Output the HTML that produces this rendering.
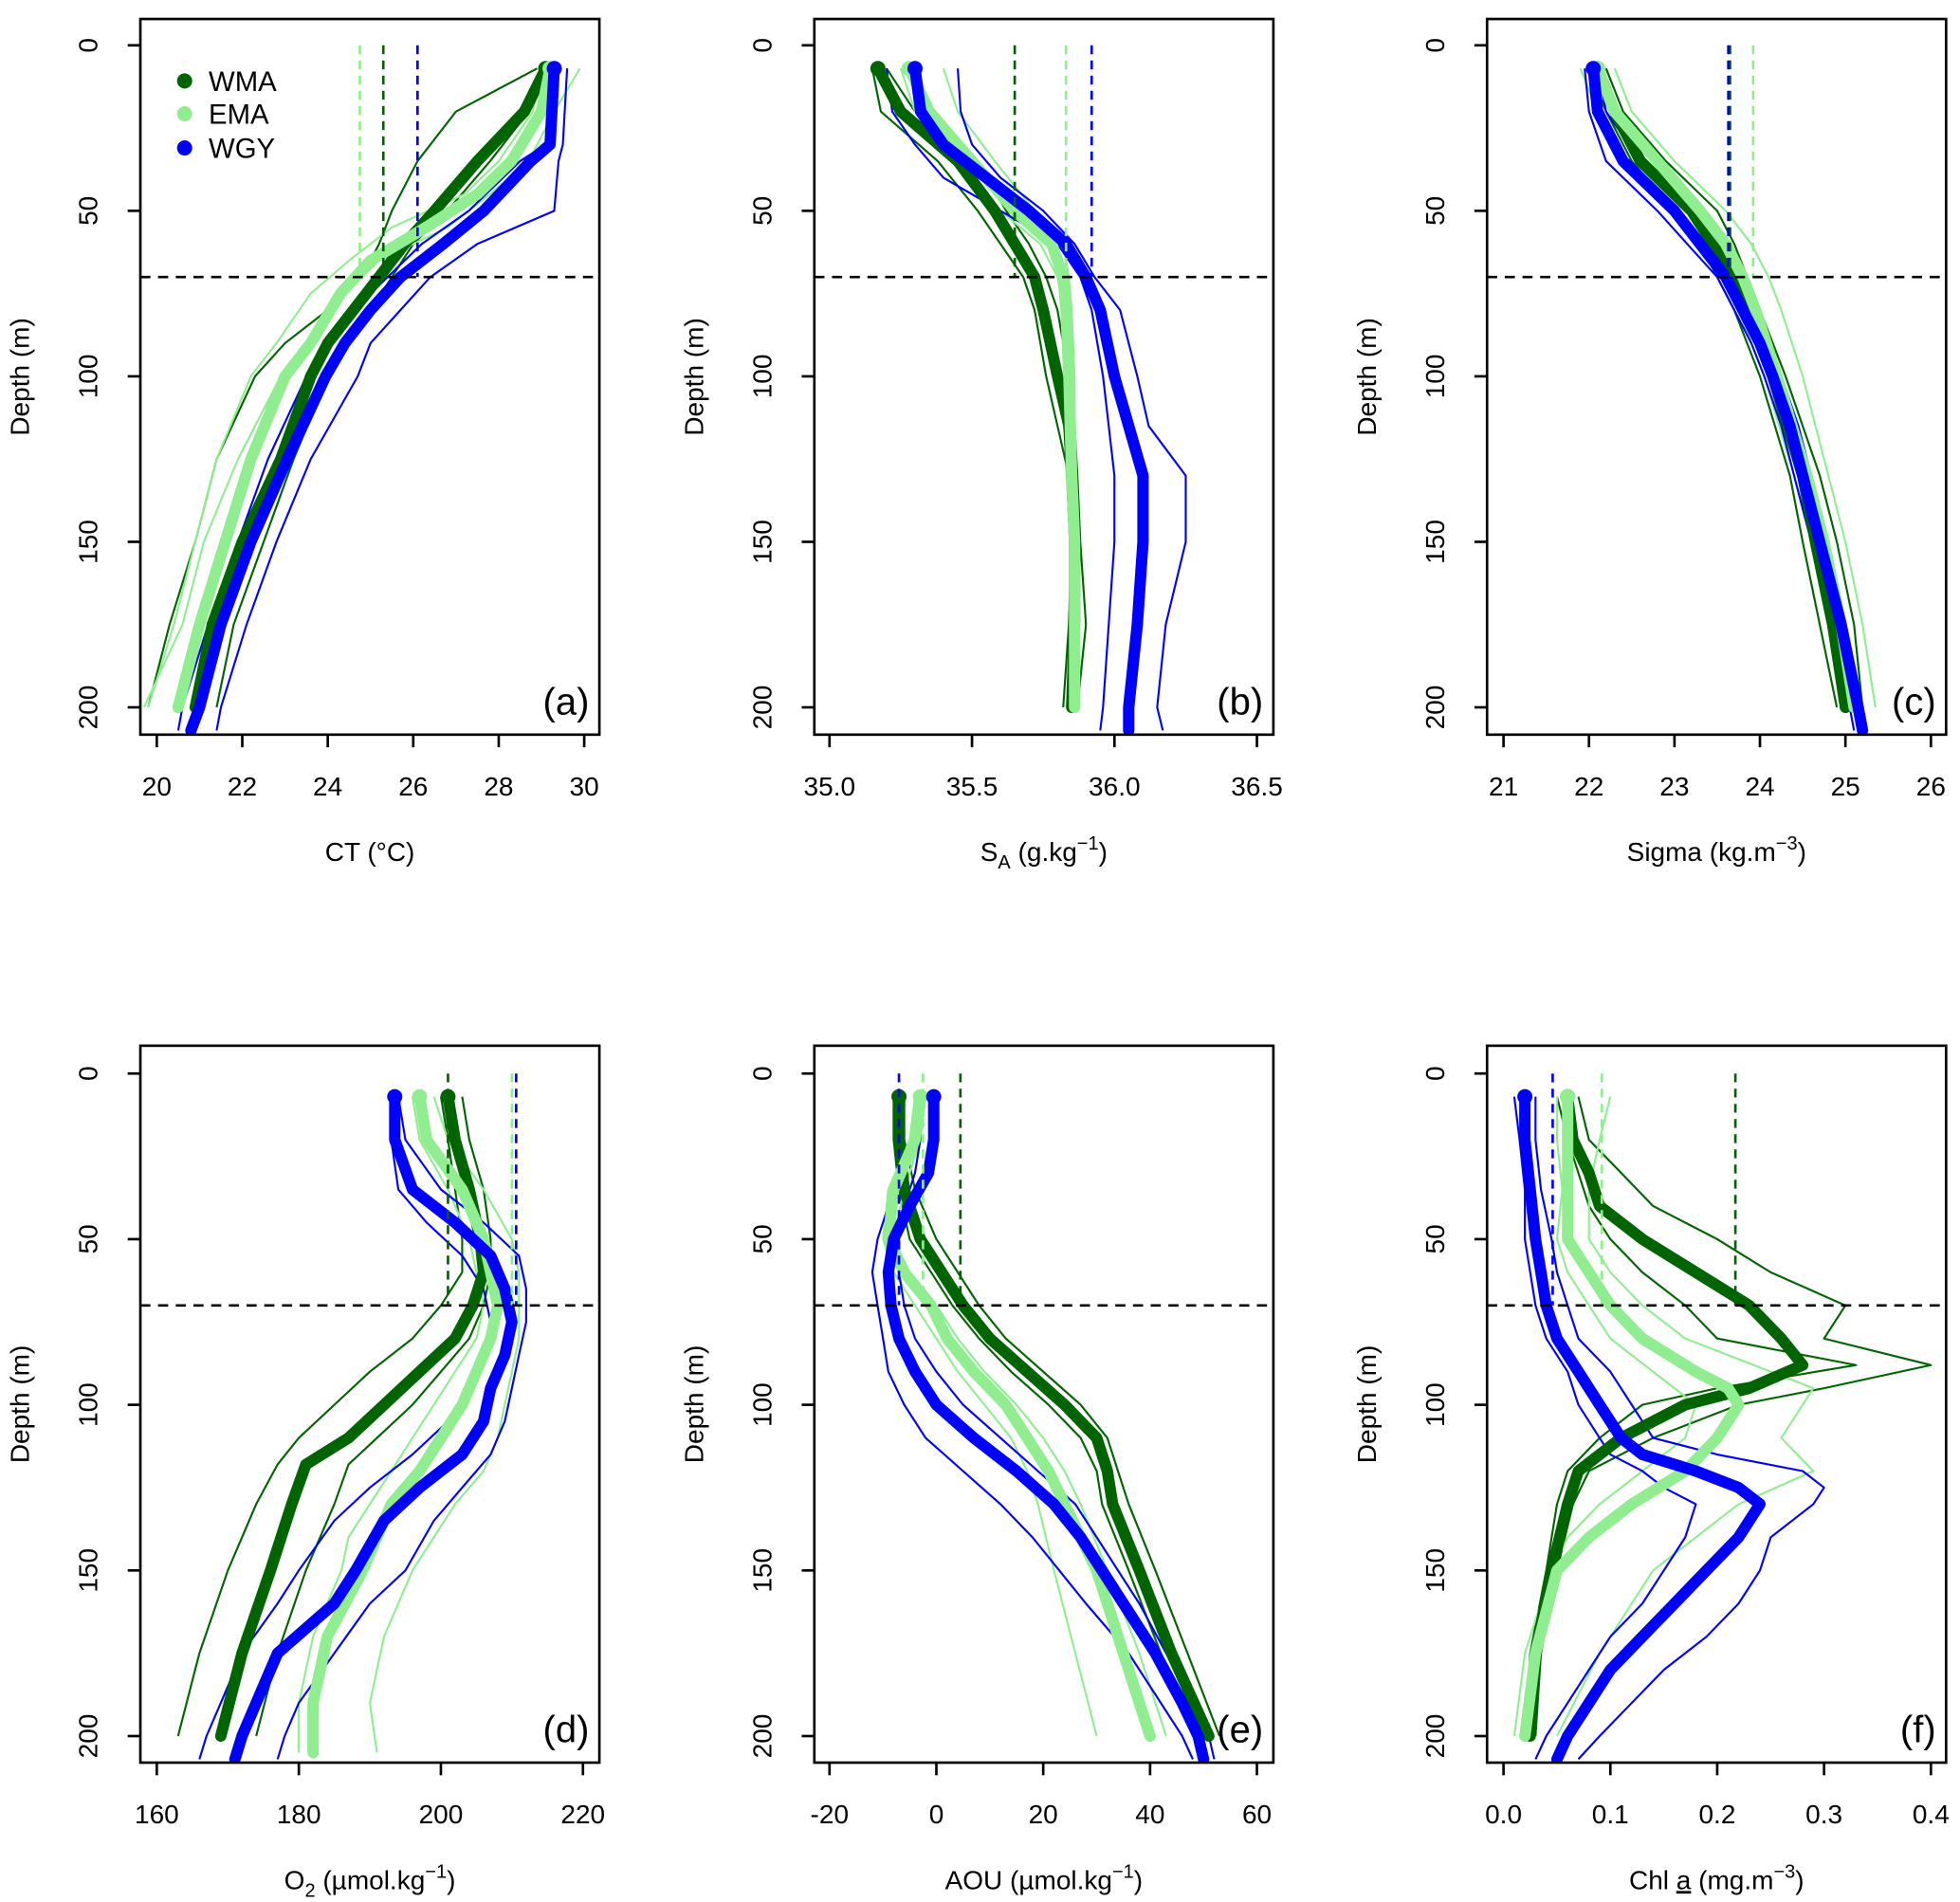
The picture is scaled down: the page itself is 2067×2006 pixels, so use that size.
<!DOCTYPE html>
<html><head><meta charset="utf-8"><title>Depth profiles</title>
<style>html,body{margin:0;padding:0;background:#fff}svg{display:block}text{font-family:"Liberation Sans",Arial,sans-serif;fill:#000}</style>
</head><body>
<svg id="chart" xmlns="http://www.w3.org/2000/svg" width="2067" height="2006" viewBox="0 0 1550 1504.2"></svg>
<script>
// ---------- Panel (a) CT ----------
const aDepthWGY=[7,30,35,50,60,70,80,90,100,125,150,175,200,207];
const aMeanWGY=[29.3,29.2,28.75,27.65,26.7,25.7,25.0,24.4,23.95,23.05,22.2,21.5,21.0,20.8];
const aThin1WGY=[29.6,29.5,29.4,29.3,27.5,26.4,25.7,25.0,24.7,23.6,22.8,22.1,21.5,21.4];
const aThin2WGY=[29.2,29.1,28.5,27.3,26.2,25.4,24.6,24.0,23.5,22.6,21.9,21.2,20.6,20.5];
const aDepthWMA=[7,20,35,50,60,70,80,90,100,125,150,175,200];
const aMeanWMA=[29.1,28.6,27.5,26.5,25.8,25.2,24.6,24.0,23.6,22.9,22.0,21.3,20.9];
const aThin1WMA=[28.9,27.0,26.1,25.5,25.2,24.8,24.0,23.0,22.3,21.4,20.9,20.3,19.8];
const aThin2WMA=[29.0,28.7,27.8,26.8,26.0,25.5,25.0,24.5,24.0,23.2,22.5,21.8,21.4];
const aDepthEMA=[7,20,35,45,55,65,75,90,100,125,150,175,200];
const aMeanEMA=[29.2,29.0,28.3,27.5,26.3,25.0,24.3,23.6,23.0,22.2,21.6,21.0,20.5];
const aThin1EMA=[29.9,29.3,28.7,27.8,26.8,25.2,24.4,23.6,22.9,21.9,21.1,20.6,19.7];
const aThin2EMA=[29.0,28.8,28.0,27.2,25.5,24.5,23.6,22.8,22.2,21.4,20.9,20.4,19.8];
const aMLD=[25.3,24.75,26.1]; // WMA, EMA, WGY
const aTicks=[20,22,24,26,28,30];
// ---------- Panel (b) SA ----------
const bDepthWGY=[7,20,30,40,50,60,70,80,100,115,130,150,175,200,207];
const bMeanWGY=[35.30,35.32,35.40,35.55,35.70,35.83,35.90,35.95,36.00,36.05,36.10,36.10,36.08,36.05,36.05];
const bThin1WGY=[35.45,35.46,35.50,35.60,35.75,35.86,35.93,36.02,36.08,36.12,36.25,36.25,36.18,36.15,36.17];
const bThin2WGY=[35.20,35.22,35.30,35.40,35.60,35.80,35.88,35.92,35.96,35.98,36.00,36.00,35.98,35.96,35.95];
const bDepthWMA=[7,20,35,50,60,70,80,100,115,130,150,175,200];
const bMeanWMA=[35.17,35.25,35.45,35.58,35.65,35.72,35.75,35.80,35.84,35.85,35.86,35.86,35.85];
const bThin1WMA=[35.15,35.18,35.38,35.52,35.60,35.68,35.72,35.76,35.80,35.84,35.85,35.84,35.82];
const bThin2WMA=[35.20,35.30,35.52,35.62,35.70,35.76,35.80,35.84,35.86,35.87,35.88,35.90,35.87];
const bDepthEMA=[7,20,35,50,60,70,80,100,130,150,200];
const bMeanEMA=[35.28,35.35,35.50,35.65,35.78,35.82,35.83,35.84,35.85,35.86,35.86];
const bThin1EMA=[35.40,35.45,35.58,35.72,35.82,35.84,35.85,35.86,35.86,35.87,35.87];
const bThin2EMA=[35.25,35.30,35.45,35.60,35.74,35.80,35.82,35.83,35.84,35.85,35.84];
const bMLD=[35.65,35.83,35.92];
const bTicks=[35.0,35.5,36.0,36.5];
// ---------- Panel (c) Sigma ----------
const cDepthWGY=[7,20,35,50,60,70,80,90,100,115,130,150,175,200,207];
const cMeanWGY=[22.05,22.1,22.4,23.0,23.3,23.6,23.8,24.0,24.15,24.35,24.5,24.7,24.95,25.15,25.2];
const cThin1WGY=[21.95,22.0,22.2,22.8,23.15,23.5,23.7,23.9,24.05,24.25,24.4,24.6,24.85,25.05,25.1];
const cThin2WGY=[22.1,22.2,22.6,23.2,23.45,23.7,23.9,24.1,24.25,24.45,24.6,24.8,25.0,25.2,25.25];
const cDepthWMA=[7,20,35,50,60,70,80,100,130,150,175,200];
const cMeanWMA=[22.1,22.3,22.6,23.2,23.45,23.65,23.85,24.15,24.5,24.65,24.85,25.0];
const cThin1WMA=[22.2,22.4,22.9,23.5,23.7,23.85,24.0,24.3,24.7,24.9,25.1,25.2];
const cThin2WMA=[22.0,22.2,22.5,23.0,23.3,23.5,23.7,24.0,24.35,24.5,24.7,24.9];
const cDepthEMA=[7,20,35,50,60,70,80,100,130,150,175,200];
const cMeanEMA=[22.1,22.3,22.8,23.3,23.6,23.8,23.95,24.2,24.55,24.75,24.95,25.1];
const cThin1EMA=[22.3,22.5,23.0,23.6,23.9,24.1,24.25,24.5,24.8,25.0,25.2,25.35];
const cThin2EMA=[21.9,22.1,22.4,23.0,23.3,23.55,23.75,24.05,24.4,24.6,24.8,24.95];
const cMLD=[23.65,23.92,23.63];
const cTicks=[21,22,23,24,25,26];
// ---------- Panel (d) O2 ----------
const dDepthWGY=[7,20,35,45,55,65,75,85,95,105,115,125,135,150,160,175,190,200,207];
const dMeanWGY=[193.5,193.5,196,202,207,209,210,209,207,206,203,197,192,188,185,177,174,172,171];
const dThin1WGY=[194,195,200,206,211,212,212,211,210,209,207,203,199,195,190,185,180,178,177];
const dThin2WGY=[193,193,194,198,203,206,207,206,204,201,196,190,185,180,177,172,169,167,166];
const dDepthWMA=[7,20,35,50,60,70,80,90,100,110,118,130,150,175,200];
const dMeanWMA=[201,202,204,205.5,206,204.5,202,197,192,187,181,179,176,172,169];
const dThin1WMA=[203,204,206,207,207,206,204,200,196,191,187,185,181,177,174];
const dThin2WMA=[200,201,202,203,203,200,196,190,185,180,177,174,170,166,163];
const dDepthEMA=[7,20,35,50,60,70,80,90,100,110,120,130,140,150,170,190,205];
const dMeanEMA=[197,198,203,206,207,208,207,205,203,200,197,193,191,189,184,182,182];
const dThin1EMA=[199,201,206,210,211,211,211,210,209,208,206,202,199,196,192,190,191];
const dThin2EMA=[196,197,201,204,205,206,205,202,199,196,193,190,187,186,182,180,180];
const dMLD=[201,210,210.6];
const dTicks=[160,180,200,220];
// ---------- Panel (e) AOU ----------
const eDepthWGY=[7,20,30,40,50,60,70,80,90,100,110,120,130,140,150,160,175,190,200,207];
const eMeanWGY=[-0.5,-0.5,-1.5,-5,-8,-9,-8.5,-7,-4,0,7,15,22,27,31,35,41,46,49,50];
const eThin1WGY=[-8,-7,-7,-9,-11,-12,-11,-10,-9,-6,-2,5,12,18,23,28,36,42,46,48];
const eThin2WGY=[-3,-3,-4,-6,-7,-7,-6,-4,0,5,12,19,26,30,34,38,43,48,51,52];
const eDepthWMA=[7,20,35,50,60,70,80,90,100,110,120,130,150,175,200];
const eMeanWMA=[-7,-7,-6,-3,1,5,10,17,24,30,32,33,38,44,51];
const eThin1WMA=[-6,-6,-4,0,4,8,13,20,27,32,34,36,41,47,53];
const eThin2WMA=[-8,-8,-7,-5,-1,3,8,14,21,27,30,31,36,42,48];
const eDepthEMA=[7,20,35,50,60,70,80,90,100,110,120,130,150,175,200];
const eMeanEMA=[-3,-4,-8,-9,-6,-1,2,7,13,17,21,24,30,35,40];
const eThin1EMA=[-4,-5,-9,-10,-8,-4,0,4,9,14,17,19,22,26,30];
const eThin2EMA=[-2,-3,-6,-8,-5,0,4,9,15,20,24,27,32,38,43];
const eMLD=[4.5,-2.5,-7];
const eTicks=[-20,0,20,40,60];
// ---------- Panel (f) Chl a ----------
const fDepthWGY=[7,20,35,50,60,70,80,90,100,110,115,120,125,130,140,150,160,170,180,190,200,207];
const fMeanWGY=[0.02,0.02,0.025,0.03,0.035,0.04,0.05,0.07,0.09,0.11,0.13,0.18,0.22,0.24,0.22,0.19,0.16,0.13,0.1,0.08,0.06,0.05];
const fThin1WGY=[0.03,0.03,0.035,0.045,0.05,0.06,0.07,0.1,0.12,0.14,0.2,0.28,0.3,0.29,0.25,0.24,0.22,0.19,0.15,0.12,0.09,0.07];
const fThin2WGY=[0.01,0.015,0.02,0.02,0.025,0.03,0.04,0.06,0.07,0.09,0.1,0.13,0.15,0.18,0.17,0.15,0.13,0.1,0.08,0.06,0.04,0.03];
const fDepthWMA=[7,20,30,40,50,60,70,80,88,95,100,110,120,130,150,175,200];
const fMeanWMA=[0.06,0.065,0.08,0.09,0.13,0.18,0.23,0.26,0.28,0.23,0.17,0.11,0.07,0.06,0.045,0.03,0.025];
const fThin1WMA=[0.07,0.08,0.11,0.14,0.2,0.25,0.32,0.3,0.4,0.3,0.22,0.14,0.08,0.065,0.05,0.035,0.03];
const fThin2WMA=[0.05,0.06,0.07,0.08,0.1,0.13,0.17,0.2,0.33,0.2,0.13,0.09,0.06,0.05,0.04,0.025,0.02];
const fDepthEMA=[7,20,35,50,60,70,80,90,95,100,110,120,130,140,150,175,200];
const fMeanEMA=[0.06,0.06,0.06,0.06,0.08,0.1,0.13,0.18,0.21,0.22,0.2,0.17,0.12,0.08,0.05,0.03,0.02];
const fThin1EMA=[0.1,0.09,0.08,0.08,0.1,0.13,0.17,0.25,0.29,0.28,0.26,0.29,0.22,0.18,0.14,0.09,0.05];
const fThin2EMA=[0.05,0.05,0.055,0.05,0.06,0.08,0.1,0.14,0.16,0.18,0.17,0.13,0.09,0.06,0.045,0.02,0.01];
const fMLD=[0.217,0.092,0.046];
const fTicks=[0.0,0.1,0.2,0.3,0.4];
const depthTicks=[0,50,100,150,200];
const mixedLayerDepth=70;

const NS="http://www.w3.org/2000/svg";
const svg=document.getElementById('chart');
const COL={WMA:'#006400',EMA:'#90EE90',WGY:'#0000FF'};
function mk(tag,attrs,parent){const e=document.createElementNS(NS,tag);for(const k in attrs)e.setAttribute(k,attrs[k]);(parent||svg).appendChild(e);return e;}

const R1={T:15,H:566,d0y:35.8,d200y:559.4};
const R2={T:827,H:567,d0y:849,d200y:1373};
const panels=[
 {id:'a',L:111,R:R1,v0:20,p0:124,v1:30,p1:462,ticks:aTicks,dec:0,mld:aMLD,
  S:{WMA:[aDepthWMA,aMeanWMA,aThin1WMA,aThin2WMA],EMA:[aDepthEMA,aMeanEMA,aThin1EMA,aThin2EMA],WGY:[aDepthWGY,aMeanWGY,aThin1WGY,aThin2WGY]}},
 {id:'b',L:644,R:R1,v0:35,p0:656,v1:36.5,p1:994,ticks:bTicks,dec:1,mld:bMLD,
  S:{WMA:[bDepthWMA,bMeanWMA,bThin1WMA,bThin2WMA],EMA:[bDepthEMA,bMeanEMA,bThin1EMA,bThin2EMA],WGY:[bDepthWGY,bMeanWGY,bThin1WGY,bThin2WGY]}},
 {id:'c',L:1176,R:R1,v0:21,p0:1189,v1:26,p1:1527,ticks:cTicks,dec:0,mld:cMLD,
  S:{WMA:[cDepthWMA,cMeanWMA,cThin1WMA,cThin2WMA],EMA:[cDepthEMA,cMeanEMA,cThin1EMA,cThin2EMA],WGY:[cDepthWGY,cMeanWGY,cThin1WGY,cThin2WGY]}},
 {id:'d',L:111,R:R2,v0:160,p0:124,v1:220,p1:461,ticks:dTicks,dec:0,mld:dMLD,
  S:{WMA:[dDepthWMA,dMeanWMA,dThin1WMA,dThin2WMA],EMA:[dDepthEMA,dMeanEMA,dThin1EMA,dThin2EMA],WGY:[dDepthWGY,dMeanWGY,dThin1WGY,dThin2WGY]}},
 {id:'e',L:644,R:R2,v0:-20,p0:656,v1:60,p1:994,ticks:eTicks,dec:0,mld:eMLD,
  S:{WMA:[eDepthWMA,eMeanWMA,eThin1WMA,eThin2WMA],EMA:[eDepthEMA,eMeanEMA,eThin1EMA,eThin2EMA],WGY:[eDepthWGY,eMeanWGY,eThin1WGY,eThin2WGY]}},
 {id:'f',L:1176,R:R2,v0:0,p0:1189,v1:0.4,p1:1527,ticks:fTicks,dec:1,mld:fMLD,
  S:{WMA:[fDepthWMA,fMeanWMA,fThin1WMA,fThin2WMA],EMA:[fDepthEMA,fMeanEMA,fThin1EMA,fThin2EMA],WGY:[fDepthWGY,fMeanWGY,fThin1WGY,fThin2WGY]}}
];
const W=363;

panels.forEach(P=>{
  const T=P.R.T,H=P.R.H;
  const g=mk('g',{});
  
  
  const xs=v=>P.p0+(v-P.v0)*(P.p1-P.p0)/(P.v1-P.v0);
  const ys=d=>P.R.d0y+d*(P.R.d200y-P.R.d0y)/200;
  const cp=mk('clipPath',{id:'clip-'+P.id},g);
  mk('rect',{x:P.L,y:T,width:W,height:H},cp);
  const plot=mk('g',{'clip-path':'url(#clip-'+P.id+')'},g);
  
  
  const regs=['WMA','EMA','WGY'];
  regs.forEach(r=>{
    const [D,M,T1,T2]=P.S[r];
    [T1,T2].forEach((TT,i)=>{
      const pl=mk('polyline',{points:TT.map((v,k)=>xs(v).toFixed(1)+','+ys(D[k]).toFixed(1)).join(' '),fill:'none',stroke:COL[r],'stroke-width':1.6,'stroke-linejoin':'round'},plot);
      
      
    });
  });
  regs.forEach(r=>{
    const [D,M]=P.S[r];
    const pl=mk('polyline',{points:M.map((v,k)=>xs(v).toFixed(1)+','+ys(D[k]).toFixed(1)).join(' '),fill:'none',stroke:COL[r],'stroke-width':9,'stroke-linejoin':'round','stroke-linecap':'round'},plot);
    
    
    const c=mk('circle',{cx:xs(M[0]),cy:ys(D[0]),r:6,fill:COL[r]},plot);
    
    
  });
  regs.forEach((r,i)=>{
    const l=mk('line',{x1:xs(P.mld[i]),x2:xs(P.mld[i]),y1:ys(0),y2:ys(mixedLayerDepth),stroke:COL[r],'stroke-width':2,'stroke-dasharray':'7,5'},plot);
    
    
  });
  const hl=mk('line',{x1:P.L,x2:P.L+W,y1:ys(mixedLayerDepth),y2:ys(mixedLayerDepth),stroke:'#000','stroke-width':2,'stroke-dasharray':'8,6'},plot);
  
  
  const fr=mk('rect',{x:P.L,y:T,width:W,height:H,fill:'none',stroke:'#000','stroke-width':2},g);
  
  
  const xa=mk('g',{},g);
  
  
  P.ticks.forEach(t=>{
    mk('line',{x1:xs(t),x2:xs(t),y1:T+H,y2:T+H+10,stroke:'#000','stroke-width':2},xa);
    const tx=mk('text',{x:xs(t),y:T+H+48,'font-size':21,'text-anchor':'middle'},xa);
    tx.textContent=t.toFixed(P.dec);
    
    
  });
  const ya=mk('g',{},g);
  
  
  depthTicks.forEach(t=>{
    mk('line',{x1:P.L,x2:P.L-10,y1:ys(t),y2:ys(t),stroke:'#000','stroke-width':2},ya);
    const tx=mk('text',{x:P.L-34,y:ys(t),'font-size':21,'text-anchor':'middle',transform:'rotate(-90 '+(P.L-34)+' '+ys(t)+')'},ya);
    tx.textContent=t;
    
    
  });
  const yt=mk('text',{x:P.L-88,y:T+H/2,'font-size':21,'text-anchor':'middle',transform:'rotate(-90 '+(P.L-88)+' '+(T+H/2)+')'},g);
  yt.textContent='Depth (m)';
  
  
  const xt=mk('text',{x:P.L+W/2,y:T+H+100,'font-size':21,'text-anchor':'middle'},g);
  
  
  const tsp=(txt,extra)=>{const s=mk('tspan',extra||{},xt);s.textContent=txt;return s;};
  if(P.id==='a'){tsp('CT (°C)');}
  else if(P.id==='b'){tsp('S');tsp('A',{'font-size':15,dy:6});tsp(' (g.kg',{dy:-6});tsp('−1',{'font-size':15,dy:-9});tsp(')',{dy:9});}
  else if(P.id==='c'){tsp('Sigma (kg.m');tsp('−3',{'font-size':15,dy:-9});tsp(')',{dy:9});}
  else if(P.id==='d'){tsp('O');tsp('2',{'font-size':15,dy:6});tsp(' (µmol.kg',{dy:-6});tsp('−1',{'font-size':15,dy:-9});tsp(')',{dy:9});}
  else if(P.id==='e'){tsp('AOU (µmol.kg');tsp('−1',{'font-size':15,dy:-9});tsp(')',{dy:9});}
  else {tsp('Chl ');tsp('a',{'text-decoration':'underline'});tsp(' (mg.m');tsp('−3',{'font-size':15,dy:-9});tsp(')',{dy:9});}
  const pl=mk('text',{x:P.L+W-8,y:T+H-16,'font-size':30,'text-anchor':'end'},g);
  pl.textContent='('+P.id+')';
  
  
});

const lg=mk('g',{});


[['WMA',64],['EMA',90],['WGY',117]].forEach(([r,y])=>{
  const e=mk('g',{},lg);
  
  
  mk('circle',{cx:146,cy:y,r:6,fill:COL[r]},e);
  const t=mk('text',{x:165,y:y+8,'font-size':22},e);
  t.textContent=r;
});
</script>
</body></html>
